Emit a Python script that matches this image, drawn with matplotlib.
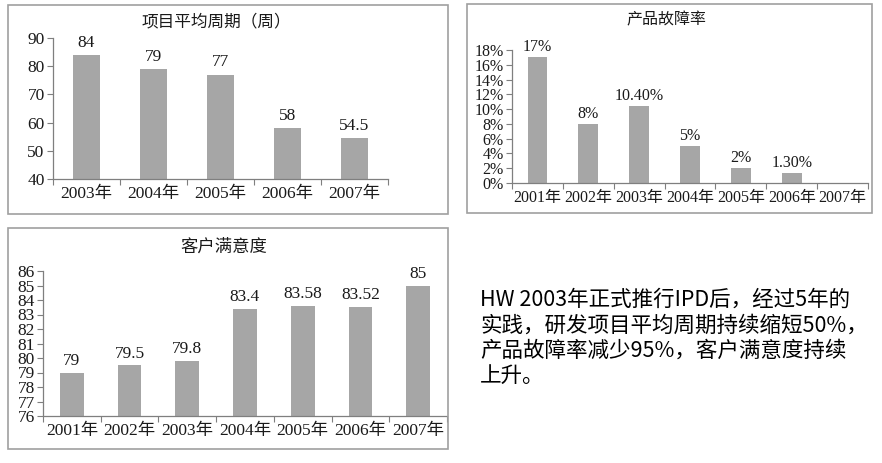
#!/usr/bin/env python3

import matplotlib
matplotlib.use("Agg")
import matplotlib.pyplot as plt
from matplotlib.patches import Rectangle
import numpy as np

# 项目平均周期（周）
cycle_years = ["2003年", "2004年", "2005年", "2006年", "2007年"]
cycle_values = [84, 79, 77, 58, 54.5]
cycle_labels = ["84", "79", "77", "58", "54.5"]
cycle_yticks = [40, 50, 60, 70, 80, 90]

# 产品故障率 (percent)
fail_years = ["2001年", "2002年", "2003年", "2004年", "2005年", "2006年", "2007年"]
fail_values = [17, 8, 10.4, 5, 2, 1.3, 0]
fail_labels = ["17%", "8%", "10.40%", "5%", "2%", "1.30%", ""]
fail_yticks = [0, 2, 4, 6, 8, 10, 12, 14, 16, 18]
fail_yticklabels = ["0%", "2%", "4%", "6%", "8%", "10%", "12%", "14%", "16%", "18%"]

# 客户满意度
sat_years = ["2001年", "2002年", "2003年", "2004年", "2005年", "2006年", "2007年"]
sat_values = [79, 79.5, 79.8, 83.4, 83.58, 83.52, 85]
sat_labels = ["79", "79.5", "79.8", "83.4", "83.58", "83.52", "85"]
sat_yticks = [76, 77, 78, 79, 80, 81, 82, 83, 84, 85, 86]

summary_lines = [
    "HW 2003年正式推行IPD后，经过5年的",
    "实践，研发项目平均周期持续缩短50%，",
    "产品故障率减少95%，客户满意度持续",
    "上升。",
]

BAR = "#a6a6a6"
AXC = "#7f7f7f"
TXT = "#1a1a1a"
W, H = 882, 463

plt.rcParams["font.family"] = ["Liberation Serif", "Noto Sans CJK SC", "DejaVu Sans"]


def px_axes(fig, left, top, right, bottom):
    return fig.add_axes([left / W, 1 - bottom / H, (right - left) / W, (bottom - top) / H])


def bar_panel(ax, cats, vals, labels, yticks, yticklabels, ylim, width, fs, offset):
    n = len(cats)
    x = np.arange(n)
    base = ylim[0]
    ax.bar(x, np.array(vals) - base, width=width, color=BAR, bottom=base)
    for xi, v, lab in zip(x, vals, labels):
        if lab:
            ax.text(xi, v + offset, lab, ha="center", va="bottom", fontsize=fs, color=TXT)
    ax.set_xlim(-0.5, n - 0.5)
    ax.set_ylim(*ylim)
    ax.set_yticks(yticks)
    ax.set_yticklabels(yticklabels, fontsize=fs, color=TXT)
    ax.set_xticks(np.arange(n + 1) - 0.5)
    ax.set_xticklabels([])
    ax.set_xticks(x, minor=True)
    ax.set_xticklabels(cats, minor=True, fontsize=fs, color=TXT)
    ax.tick_params(axis="x", which="major", length=4, color=AXC, direction="out")
    ax.tick_params(axis="x", which="minor", length=0, pad=5)
    ax.tick_params(axis="y", length=4, color=AXC, direction="out", pad=2)
    for s in ["top", "right"]:
        ax.spines[s].set_visible(False)
    for s in ["left", "bottom"]:
        ax.spines[s].set_color(AXC)
        ax.spines[s].set_linewidth(0.9)


def _main():
    fig = plt.figure(figsize=(W / 100, H / 100), dpi=100)
    fig.patch.set_facecolor("white")

    # panel borders
    for (l, t, r, b) in [(8, 5, 448, 214), (467, 4, 872, 213), (8, 228, 448, 449)]:
        fig.patches.append(Rectangle((l / W, 1 - b / H), (r - l) / W, (b - t) / H,
                                     transform=fig.transFigure, fill=False,
                                     edgecolor="#a0a0a0", linewidth=1.2))

    ax1 = px_axes(fig, 53, 38, 388, 179)
    bar_panel(ax1, cycle_years, cycle_values, cycle_labels, cycle_yticks,
              [str(v) for v in cycle_yticks], (40, 90), 0.4, 12.5, 1.5)
    fig.text(216 / W, 1 - 22 / H, "项目平均周期（周）", ha="center", va="center",
             fontsize=12, color=TXT)

    ax2 = px_axes(fig, 512, 50, 868, 183)
    bar_panel(ax2, fail_years, fail_values, fail_labels, fail_yticks,
              fail_yticklabels, (0, 18), 0.39, 11.5, 0.3)
    fig.text(666 / W, 1 - 20 / H, "产品故障率", ha="center", va="center",
             fontsize=11.5, color=TXT)

    ax3 = px_axes(fig, 43, 271, 447, 416)
    bar_panel(ax3, sat_years, sat_values, sat_labels, sat_yticks,
              [str(v) for v in sat_yticks], (76, 86), 0.41, 12.5, 0.25)
    fig.text(224 / W, 1 - 248 / H, "客户满意度", ha="center", va="center",
             fontsize=12.5, color=TXT)

    for i, line in enumerate(summary_lines):
        fig.text(480 / W, 1 - (300 + 25.3 * i) / H, line, ha="left", va="center",
                 fontsize=15.5, color="#000000", family=["Noto Sans CJK SC", "DejaVu Sans"])

    fig.savefig("out.png", dpi=100)


if __name__ == '__main__':
    _main()
